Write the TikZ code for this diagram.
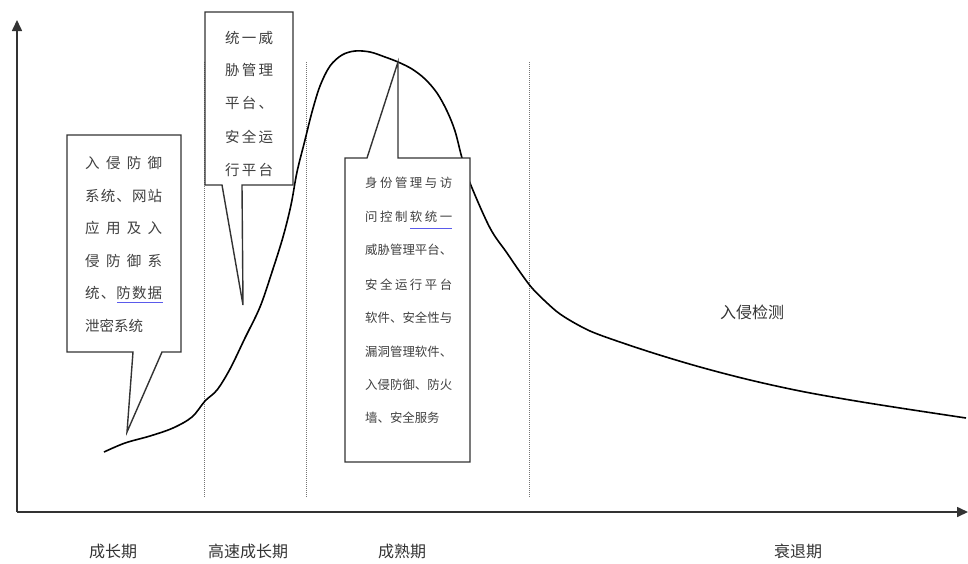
\documentclass[tikz,border=0pt]{standalone}
\usepackage{fontspec}
\newfontfamily\cjk{Noto Sans CJK SC}
\usetikzlibrary{arrows.meta}
\definecolor{spellblue}{RGB}{90,90,235}
\tikzset{
  axis/.style={line width=1.6pt, draw=black!80, -{Triangle[length=11pt,width=10pt]}},
  divider/.style={draw=black!55, line width=0.9pt, dash pattern=on 1pt off 1pt},
  curveline/.style={line width=1.6pt, draw=black, line join=round},
  callout/.style={line width=1.4pt, draw=black!80, fill=white, line join=miter},
  ctext/.style={anchor=west, inner sep=0pt, text=black!75, font=\cjk\fontsize{14.5}{14.5}\selectfont},
  csmall/.style={anchor=west, inner sep=0pt, text=black!75, font=\cjk\fontsize{12.4}{12.4}\selectfont},
  phase/.style={inner sep=0pt, text=black!80, font=\cjk\fontsize{16}{16}\selectfont},
  spell/.style={draw=spellblue, line width=1pt}
}
\begin{document}
\begin{tikzpicture}[x=1pt,y=-1pt]
\useasboundingbox (0,0) rectangle (968,563);
% axes
\coordinate (O) at (17,512);
\coordinate (ytop) at (17,20);
\coordinate (xend) at (968,512);
\draw[axis] (O) -- (ytop);
\draw[axis] (O) -- (xend);
% dividers
\coordinate (d1t) at (204,62); \coordinate (d1b) at (204,497);
\coordinate (d2t) at (306,62); \coordinate (d2b) at (306,497);
\coordinate (d3t) at (529,62); \coordinate (d3b) at (529,497);
\draw[divider] (d1t) -- (d1b);
\draw[divider] (d2t) -- (d2b);
\draw[divider] (d3t) -- (d3b);
% life cycle curve
\draw[curveline] plot[smooth, tension=0.55] coordinates {
 (104,452) (125,443) (150,436) (173,428) (192,417) (205,401) (217,390) (230,369)
 (245,338) (260,307) (272,272) (283,237) (291,205) (297,172) (305,140) (312,112)
 (320,86) (330,66) (342,55) (355,51) (370,52) (385,57) (398,62) (412,69) (425,79)
 (437,93) (447,111) (455,131) (462,158) (470,183) (490,228) (507,253) (520,272)
 (532,288) (546,302) (560,314) (580,326) (600,335) (650,352) (700,367) (750,380)
 (800,391) (850,400) (900,408) (966,418)};
% callout 1
\draw[callout] (67,135) -- (181,135) -- (181,352) -- (162,352) -- (127,432) -- (133,352) -- (67,352) -- cycle;
\node[ctext] (a1) at (85,163) {\makebox[77pt][s]{入\hfill 侵\hfill 防\hfill 御}};
\node[ctext] (a2) at (85,196) {\makebox[77pt][s]{系\hfill 统\hfill 、\hfill 网\hfill 站}};
\node[ctext] (a3) at (85,228) {\makebox[77pt][s]{应\hfill 用\hfill 及\hfill 入}};
\node[ctext] (a4) at (85,261) {\makebox[77pt][s]{侵\hfill 防\hfill 御\hfill 系}};
\node[ctext] (a5) at (85,293) {\makebox[77pt][s]{统\hfill 、\hfill 防\hfill 数\hfill 据}};
\node[ctext] (a6) at (85,326) {泄密系统};
\draw[spell] (117,302) -- (163,302);
% callout 2
\draw[callout] (205,12) -- (293,12) -- (293,185) -- (242,185) -- (243,305) -- (222,185) -- (205,185) -- cycle;
\node[ctext] (b1) at (225,38) {\makebox[48pt][s]{统\hfill 一\hfill 威}};
\node[ctext] (b2) at (225,70) {\makebox[48pt][s]{胁\hfill 管\hfill 理}};
\node[ctext] (b3) at (225,103) {\makebox[48pt][s]{平\hfill 台\hfill 、}};
\node[ctext] (b4) at (225,137) {\makebox[48pt][s]{安\hfill 全\hfill 运}};
\node[ctext] (b5) at (225,170) {\makebox[48pt][s]{行\hfill 平\hfill 台}};
% callout 3
\draw[callout] (345,158) -- (367,158) -- (398,62) -- (398,158) -- (470,158) -- (470,462) -- (345,462) -- cycle;
\node[csmall] (c1) at (365,183) {\makebox[87pt][s]{身\hfill 份\hfill 管\hfill 理\hfill 与\hfill 访}};
\node[csmall] (c2) at (365,217) {\makebox[87pt][s]{问\hfill 控\hfill 制\hfill 软\hfill 统\hfill 一}};
\node[csmall] (c3) at (365,250) {\makebox[87pt][s]{威\hfill 胁\hfill 管\hfill 理\hfill 平\hfill 台\hfill 、}};
\node[csmall] (c4) at (365,285) {\makebox[87pt][s]{安\hfill 全\hfill 运\hfill 行\hfill 平\hfill 台}};
\node[csmall] (c5) at (365,318) {\makebox[87pt][s]{软\hfill 件\hfill 、\hfill 安\hfill 全\hfill 性\hfill 与}};
\node[csmall] (c6) at (365,352) {\makebox[87pt][s]{漏\hfill 洞\hfill 管\hfill 理\hfill 软\hfill 件\hfill 、}};
\node[csmall] (c7) at (365,385) {\makebox[87pt][s]{入\hfill 侵\hfill 防\hfill 御\hfill 、\hfill 防\hfill 火}};
\node[csmall] (c8) at (365,418) {墙、安全服务};
\draw[spell] (410,228) -- (452,228);
% free label
\node[phase] (ids) at (752,312) {入侵检测};
% phase labels
\node[phase] (p1) at (113,551) {成长期};
\node[phase] (p2) at (248,551) {高速成长期};
\node[phase] (p3) at (402,551) {成熟期};
\node[phase] (p4) at (798,551) {衰退期};
\end{tikzpicture}
\end{document}
